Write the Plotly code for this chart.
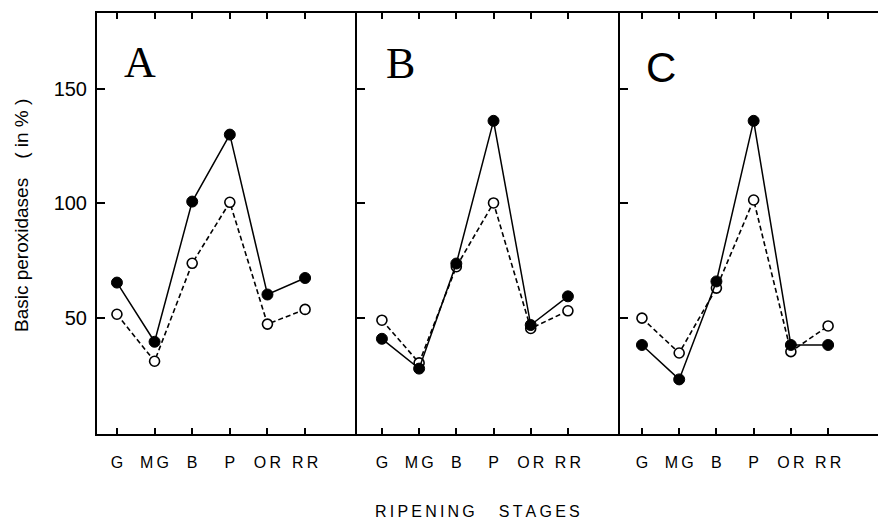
import plotly.graph_objects as go

stages = ["G", "M\u2009G", "B", "P", "O\u2009R", "R\u2009R"]
stage_idx = [0, 1, 2, 3, 4, 5]

panels = ["A", "B", "C"]
filled = {
    "A": [65.5, 39.7, 100.8, 130.0, 60.3, 67.5],
    "B": [41.0, 28.0, 73.8, 136.0, 47.0, 59.5],
    "C": [38.3, 23.3, 66.0, 136.0, 38.3, 38.3],
}
opened = {
    "A": [51.7, 31.2, 73.9, 100.5, 47.4, 53.8],
    "B": [49.1, 30.5, 72.4, 100.2, 45.5, 53.2],
    "C": [50.0, 34.8, 63.1, 101.5, 35.4, 46.6],
}
ytick_vals = [50, 100, 150]
y_range = [-0.5, 183.0]

W, H = 878, 520
ml, mr, mt, mb = 97, 0, 13, 86
pw = W - ml - mr
ph = H - mt - mb

def px_x(p):
    return (p - ml) / pw

def px_y(p):
    return (H - mb - p) / ph

domains = [[0.0, px_x(357)], [px_x(357), px_x(620)], [px_x(620), 1.0]]
x_ranges = [[-0.53, 6.38], [-0.67, 6.40], [-0.59, 6.34]]

fig = go.Figure()

for i, p in enumerate(panels):
    xa = "x" if i == 0 else f"x{i+1}"
    ya = "y" if i == 0 else f"y{i+1}"
    fig.add_trace(go.Scatter(
        x=stage_idx, y=opened[p], xaxis=xa, yaxis=ya, mode="lines+markers",
        line=dict(color="black", width=1.6, dash="5px,3px"),
        marker=dict(symbol="circle", size=10, color="white",
                    line=dict(color="black", width=1.6)),
        showlegend=False, cliponaxis=False))
    fig.add_trace(go.Scatter(
        x=stage_idx, y=filled[p], xaxis=xa, yaxis=ya, mode="lines+markers",
        line=dict(color="black", width=1.5),
        marker=dict(symbol="circle", size=11, color="black",
                    line=dict(color="black", width=1)),
        showlegend=False, cliponaxis=False))

axis_font = dict(family="Liberation Sans, Arial, sans-serif", size=16, color="black")
layout = dict(
    width=W, height=H,
    margin=dict(l=ml, r=mr, t=mt, b=mb),
    paper_bgcolor="white", plot_bgcolor="white",
    showlegend=False,
)
for i in range(3):
    xk = "xaxis" if i == 0 else f"xaxis{i+1}"
    yk = "yaxis" if i == 0 else f"yaxis{i+1}"
    layout[xk] = dict(
        domain=domains[i], range=x_ranges[i], anchor="y" if i == 0 else f"y{i+1}",
        tickmode="array", tickvals=stage_idx, ticktext=stages,
        ticks="inside", ticklen=6, tickwidth=1.5, tickcolor="black",
        showline=True, linecolor="black", linewidth=2, mirror="ticks",
        showgrid=False, zeroline=False, tickfont=axis_font,
        ticklabelstandoff=13,
    )
    layout[yk] = dict(
        domain=[0, 1], range=y_range, anchor="x" if i == 0 else f"x{i+1}",
        tickmode="array", tickvals=ytick_vals,
        ticks="inside", ticklen=8, tickwidth=1.5, tickcolor="black",
        showline=True, linecolor="black", linewidth=2,
        mirror=False,
        showgrid=False, zeroline=False,
        showticklabels=(i == 0),
        tickfont=dict(family="Liberation Sans, Arial, sans-serif", size=20, color="black"),
        ticklabelstandoff=4,
    )
# right-side ticks of panel C (border is outside the picture)
layout["yaxis4"] = dict(
    overlaying="y3", side="right", anchor="x3", range=y_range,
    tickmode="array", tickvals=ytick_vals,
    ticks="inside", ticklen=6, tickwidth=1.5, tickcolor="black",
    showline=False, showgrid=False, zeroline=False, showticklabels=False,
)
fig.update_layout(**layout)

letter_pos = [(140, 62, "Liberation Serif, Times New Roman, serif", 44),
              (400, 64, "Liberation Serif, Times New Roman, serif", 44),
              (661, 67, "Liberation Sans, Arial, sans-serif", 42)]
for p, (lx, ly, fam, sz) in zip(panels, letter_pos):
    fig.add_annotation(x=px_x(lx), y=px_y(ly), xref="paper", yref="paper",
                       text=p, showarrow=False, xanchor="center", yanchor="middle",
                       font=dict(family=fam, size=sz, color="black"))

fig.add_annotation(x=px_x(21), y=px_y(216), xref="paper", yref="paper",
                   text="Basic peroxidases\u2003( in % )", textangle=-90,
                   showarrow=False, xanchor="center", yanchor="middle",
                   font=dict(family="Liberation Sans, Arial, sans-serif", size=19, color="black"))

ts = "\u2009"
xtitle = ts.join("RIPENING") + "\u2003\u2002" + ts.join("STAGES")
fig.add_annotation(x=px_x(477), y=px_y(511), xref="paper", yref="paper",
                   text=xtitle, showarrow=False, xanchor="center", yanchor="middle",
                   font=dict(family="Liberation Sans, Arial, sans-serif", size=16, color="black"))

fig.write_html("out.html")
